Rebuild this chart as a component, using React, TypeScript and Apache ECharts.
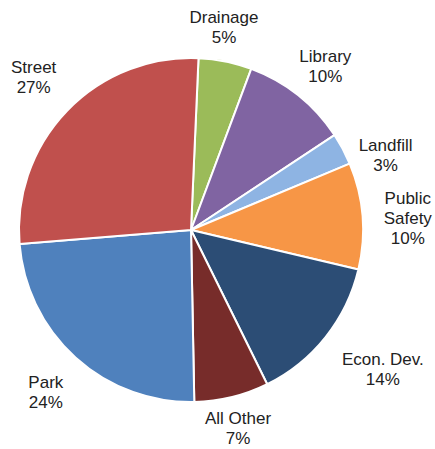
import React, { useEffect, useRef } from "react";
import * as echarts from "echarts";

const categories = ["Drainage", "Library", "Landfill", "Public\nSafety", "Econ. Dev.", "All Other", "Park", "Street"];
const shares = [5, 10, 3, 10, 14, 7, 24, 27];
const colors = ["#9BBB59", "#8064A2", "#8EB4E3", "#F79646", "#2C4D75", "#772C2A", "#4F81BD", "#C0504D"];
// small label placement tweaks (px) applied after the radial layout
const labelNudgeX = [-9, 0, 3, 7, 13, -3, -4, -3];
const labelNudgeY = [4, 5, 28, 6, -3, -7, 6, -4];

const CX = 191;
const CY = 230;
const R = 172;
const GAP = 12;

export default function App() {
  const ref = useRef<HTMLDivElement>(null);
  useEffect(() => {
    if (!ref.current) return;
    const chart = echarts.init(ref.current, null, { renderer: "svg" });
    const data = categories.map((name, i) => ({ name, value: shares[i] }));
    chart.setOption({
      animation: false,
      backgroundColor: "#ffffff",
      color: colors,
      series: [
        {
          type: "pie",
          center: [CX, CY],
          radius: [0, R],
          startAngle: 87.5,
          clockwise: true,
          silent: true,
          itemStyle: { borderColor: "#ffffff", borderWidth: 2 },
          label: {
            show: true,
            position: "inside",
            formatter: (p: any) => `${p.name}\n${p.value}%`,
            fontFamily: "Liberation Sans, Arial, sans-serif",
            fontSize: 17,
            lineHeight: 20,
            color: "#222222",
            align: "center",
          },
          labelLine: { show: false },
          labelLayout: (params: any) => {
            const lr = params.labelRect;
            const lx = lr.x + lr.width / 2;
            const ly = lr.y + lr.height / 2;
            const vx = lx - CX;
            const vy = ly - CY;
            const len = Math.sqrt(vx * vx + vy * vy) || 1;
            const ux = vx / len;
            const uy = vy / len;
            const D = R + GAP + (lr.width / 2) * Math.abs(ux) + (lr.height / 2) * Math.abs(uy);
            const i = params.dataIndex;
            return {
              dx: (D - len) * ux + (labelNudgeX[i] || 0),
              dy: (D - len) * uy + (labelNudgeY[i] || 0),
            };
          },
          data,
        },
      ],
    });
    return () => chart.dispose();
  }, []);
  return <div ref={ref} style={{ position: "fixed", left: 0, top: 0, width: 435, height: 449 }} />;
}
